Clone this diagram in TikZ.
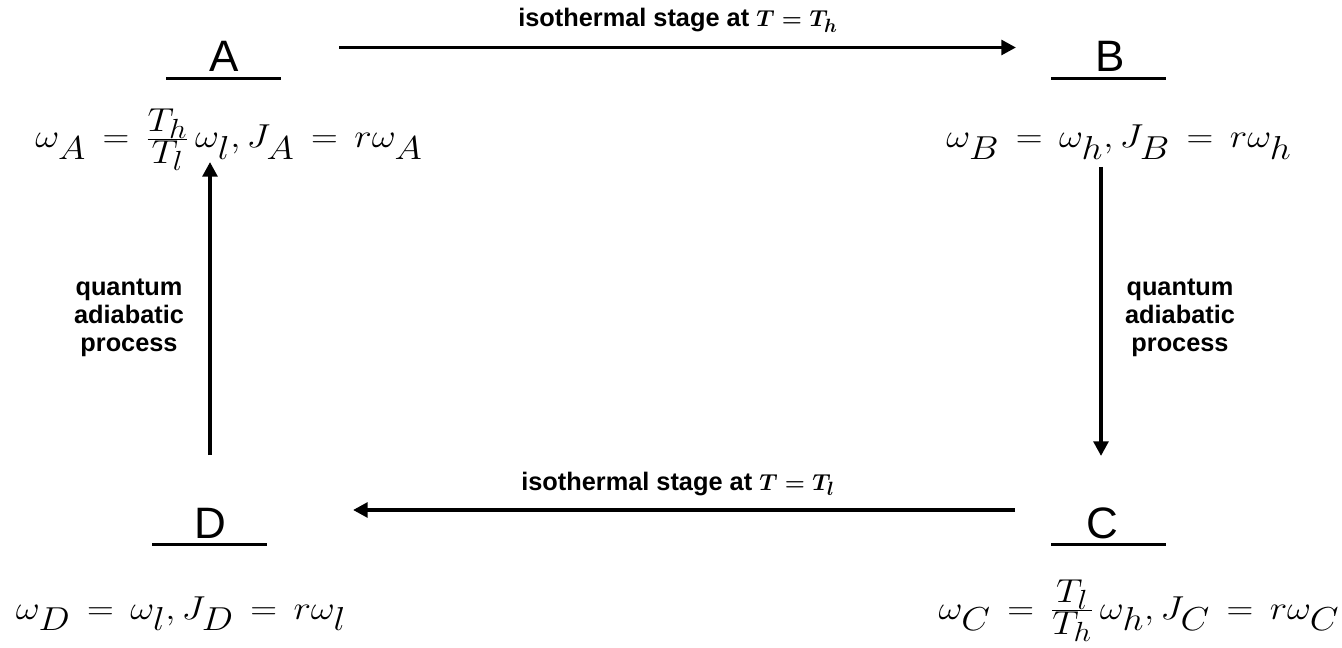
\documentclass[tikz,border=0pt]{standalone}
\usepackage{fontspec}
\setmainfont{Liberation Sans}
\usetikzlibrary{arrows.meta}
\DeclareMathSizes{36}{36}{27}{20}
\newcommand{\eqspace}{\thickmuskip=8mu plus 2mu\medmuskip=5mu}
\newcommand{\wideeq}[1]{\scalebox{1.12}[1]{$#1$}}
\begin{document}
\begin{tikzpicture}[x=0.75pt,y=-0.75pt,
  statename/.style={font=\fontsize{33}{36}\selectfont, inner sep=0pt, anchor=base},
  bar/.style={line width=2.8pt},
  eq/.style={font=\fontsize{36}{40}\selectfont\eqspace, inner sep=0pt, anchor=base},
  flow/.style={line width=2.8pt, -{Triangle[length=11pt,width=11pt]}},
  lab/.style={font=\fontsize{19}{21}\selectfont\bfseries\boldmath, align=center, inner sep=0pt}]
\useasboundingbox (0,0) rectangle (1342,648);
% state names
\node[statename] (A) at (224,72) {A};
\node[statename] (B) at (1110,72) {B};
\node[statename] (C) at (1102,538) {C};
\node[statename] (D) at (210,538) {D};
% underlines
\draw[bar] (166,78.5) -- (281,78.5);
\draw[bar] (1051,78.5) -- (1166,78.5);
\draw[bar] (1051,544.5) -- (1166,544.5);
\draw[bar] (152,544.5) -- (267,544.5);
% equations
\node[eq] (eA) at (229,148) {\wideeq{\eqspace\omega_A = \frac{T_h}{T_l}\,\omega_l, J_A = r\omega_A}};
\node[eq] (eB) at (1119,148) {\wideeq{\eqspace\omega_B = \omega_h, J_B = r\omega_h}};
\node[eq] (eD) at (181,619) {\wideeq{\eqspace\omega_D = \omega_l, J_D = r\omega_l}};
\node[eq] (eC) at (1139,619) {\wideeq{\eqspace\omega_C = \frac{T_l}{T_h}\,\omega_h, J_C = r\omega_C}};
% arrow ends
\coordinate (t1) at (339,47.5);
\coordinate (t2) at (1016,47.5);
\coordinate (r1) at (1101,167);
\coordinate (r2) at (1101,456);
\coordinate (b1) at (1015,510);
\coordinate (b2) at (353,510);
\coordinate (l1) at (210,455);
\coordinate (l2) at (210,162);
\draw[flow] (t1) -- (t2);
\draw[flow] (r1) -- (r2);
\draw[flow] (b1) -- (b2);
\draw[flow] (l1) -- (l2);
% labels
\node[lab, anchor=base] (lt) at (678,27) {isothermal stage at $T = T_h$};
\node[lab, anchor=base] (lb) at (678,490) {isothermal stage at $T = T_l$};
\node[lab, anchor=base] (ll) at (129,352) {quantum\\adiabatic\\process};
\node[lab, anchor=base] (lr) at (1180,352) {quantum\\adiabatic\\process};
\end{tikzpicture}
\end{document}
